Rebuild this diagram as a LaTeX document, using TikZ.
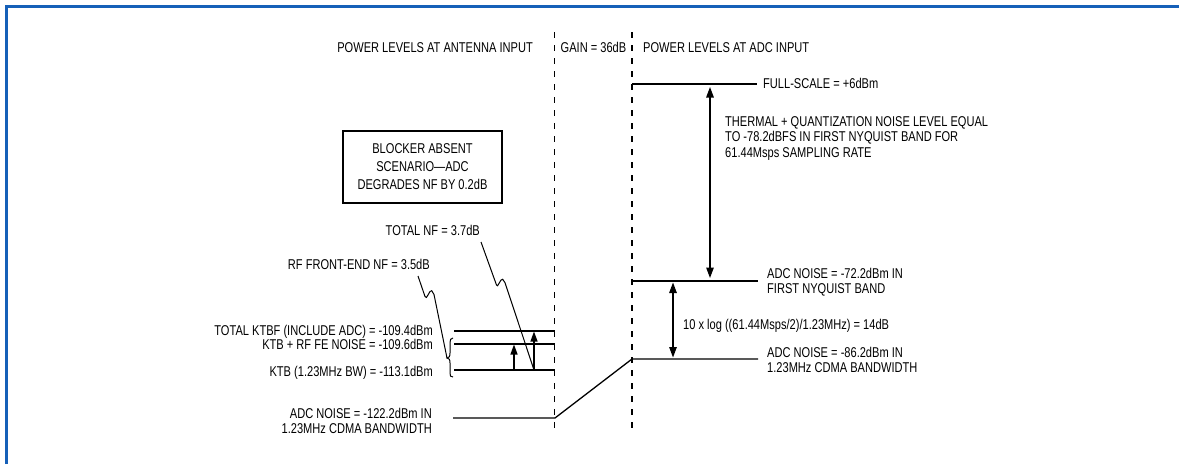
\documentclass[tikz,border=0pt]{standalone}
\usepackage{fontspec}
\setmainfont{Liberation Sans}[FakeStretch=0.78]
\usetikzlibrary{arrows.meta}
\definecolor{frameblue}{RGB}{22,96,184}
\begin{document}
\begin{tikzpicture}[x=1pt,y=-1pt,
  lbl/.style={inner sep=0pt, font=\fontsize{14.2}{15.5}\selectfont},
  lvl/.style={line width=1.3pt},
  guide/.style={line width=1.1pt, dash pattern=on 6pt off 7pt},
  tipup/.style={-{Triangle[length=10pt,width=7pt]}, line width=1.3pt},
  dtip/.style={{Triangle[length=10.5pt,width=7.5pt]}-{Triangle[length=10.5pt,width=7.5pt]}, line width=1.3pt},
  lead/.style={line width=1pt}]
\useasboundingbox (0,0) rectangle (1179,464);
% frame
\coordinate (frBL) at (6.5,464);
\coordinate (frTL) at (6.5,6.5);
\coordinate (frTR) at (1179,6.5);
\draw[frameblue, line width=2.6pt] (frBL) -- (frTL) -- (frTR);
% dashed guides
\coordinate (dLt) at (554.5,32);
\coordinate (dLb) at (554.5,428);
\coordinate (dRt) at (632,32);
\coordinate (dRb) at (632,428);
\draw[guide] (dLt) -- (dLb);
\draw[guide] (dRt) -- (dRb);
% headers
\node[lbl, anchor=base east] (hAnt) at (533,52) {POWER LEVELS AT ANTENNA INPUT};
\node[lbl, anchor=base] (hGain) at (593.5,52) {GAIN = 36dB};
\node[lbl, anchor=base west] (hAdc) at (643,52) {POWER LEVELS AT ADC INPUT};
% right side levels
\coordinate (fsL) at (632,84);
\coordinate (fsR) at (757,84);
\draw[lvl] (fsL) -- (fsR);
\node[lbl, anchor=base west] (fsT) at (763,88.5) {FULL-SCALE = +6dBm};
\coordinate (n72L) at (632,281);
\coordinate (n72R) at (758,281);
\draw[lvl] (n72L) -- (n72R);
\node[lbl, anchor=north west, align=left] (n72T) at (767,268) {ADC NOISE = -72.2dBm IN\\FIRST NYQUIST BAND};
\node[lbl, anchor=north west, align=left] (thT) at (725,116) {THERMAL + QUANTIZATION NOISE LEVEL EQUAL\\TO -78.2dBFS IN FIRST NYQUIST BAND FOR\\61.44Msps SAMPLING RATE};
\coordinate (a1t) at (710,84);
\coordinate (a1b) at (710,281);
\draw[dtip, shorten <=3pt, shorten >=3pt] (a1t) -- (a1b);
\coordinate (a2t) at (673,281);
\coordinate (a2b) at (673,359);
\draw[dtip, shorten <=1.5pt, shorten >=1.5pt] (a2t) -- (a2b);
\node[lbl, anchor=base west] (logT) at (683,329.5) {10 x log ((61.44Msps/2)/1.23MHz) = 14dB};
\node[lbl, anchor=north west, align=left] (n86T) at (767,347) {ADC NOISE = -86.2dBm IN\\1.23MHz CDMA BANDWIDTH};
% ADC noise path
\coordinate (n122L) at (453,418);
\coordinate (n122R) at (555,418);
\coordinate (n86L) at (632,359);
\coordinate (n86R) at (758,359);
\draw[lvl] (n122L) -- (n122R) -- (n86L) -- (n86R);
\node[lbl, anchor=north east, align=right] (n122T) at (432,408) {ADC NOISE = -122.2dBm IN\\1.23MHz CDMA BANDWIDTH};
% left levels
\coordinate (tkfL) at (454,331);
\coordinate (tkfR) at (555,331);
\coordinate (rfL) at (454,344);
\coordinate (rfR) at (555,344);
\coordinate (ktbL) at (454,370);
\coordinate (ktbR) at (555,370);
\draw[lvl] (tkfL) -- (tkfR);
\draw[lvl] (rfL) -- (rfR);
\draw[lvl] (ktbL) -- (ktbR);
\node[lbl, anchor=base east] (tkfT) at (433,335) {TOTAL KTBF (INCLUDE ADC) = -109.4dBm};
\node[lbl, anchor=base east] (rfT) at (433,349) {KTB + RF FE NOISE = -109.6dBm};
\node[lbl, anchor=base east] (ktbT) at (433,376) {KTB (1.23MHz BW) = -113.1dBm};
% small arrows
\coordinate (s1b) at (514,370);
\coordinate (s1t) at (514,344.5);
\coordinate (s2b) at (534,370);
\coordinate (s2t) at (534,331.5);
\draw[tipup] (s1b) -- (s1t);
\draw[tipup] (s2b) -- (s2t);
% brace
\coordinate (brT) at (453,338);
\coordinate (brTip) at (447,358);
\coordinate (brB) at (453,377);
\draw[lead] (brT) .. controls (450.5,338) and (450,340) .. (450,343) -- (450,353)
  .. controls (450,356.5) and (449,358) .. (brTip)
  .. controls (449,358) and (450,359.5) .. (450,363) -- (450,373)
  .. controls (450,376) and (450.5,377) .. (brB);
% box
\node[draw, line width=1.3pt, minimum width=159pt, minimum height=72pt, inner sep=0pt,
  align=center, font=\fontsize{14.2}{18}\selectfont] (box) at (422.5,167)
  {BLOCKER ABSENT\\SCENARIO---ADC\\DEGRADES NF BY 0.2dB};
% leader labels
\node[lbl, anchor=base east] (rfnfT) at (430,269.5) {RF FRONT-END NF = 3.5dB};
\node[lbl, anchor=base east] (tnfT) at (480,235) {TOTAL NF = 3.7dB};
\coordinate (rfLd) at (418,276);
\coordinate (tnLd) at (481,242);
\draw[lead] (rfLd) -- (425,296.5) .. controls (426.5,301.5) and (429.5,289) .. (431.7,290.7)
  .. controls (433,291.7) and (433.5,293) .. (434,294.5) -- (brTip);
\draw[lead] (tnLd) -- (496.5,285) .. controls (497.5,289.5) and (500.5,277.5) .. (502.7,279.3)
  .. controls (503.7,280.2) and (504.3,281.3) .. (505,282.7) -- (533.5,368.5);
\end{tikzpicture}
\end{document}
